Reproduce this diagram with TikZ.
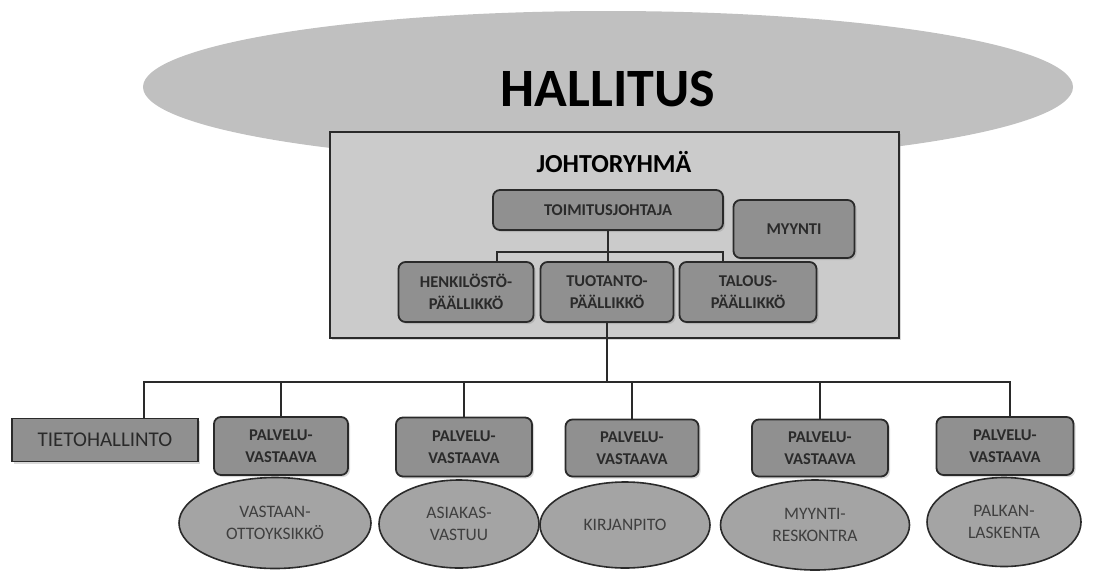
\documentclass[tikz,border=0pt]{standalone}
\usepackage{fontspec}
\setmainfont{Carlito}
\usepackage{tikz}
\usetikzlibrary{positioning,calc,shapes.geometric,shadows}
\definecolor{boardgray}{HTML}{C0C0C0}
\definecolor{groupgray}{HTML}{CBCBCB}
\definecolor{boxgray}{HTML}{909090}
\definecolor{unitgray}{HTML}{A4A4A4}
\definecolor{edge}{HTML}{2A2A2A}

\begin{document}
\begin{tikzpicture}[x=1pt, y=-1pt, semithick]
\tikzstyle{role}=[draw=edge, fill=boxgray, line width=1.8pt, rounded corners=7pt, align=center, inner sep=0pt, font=\bfseries\fontsize{16.5}{22}\selectfont, text=edge, drop shadow={shadow xshift=2pt, shadow yshift=-2pt, opacity=0.3}]
\tikzstyle{unit}=[ellipse, draw=edge, fill=unitgray, line width=1.6pt, align=center, inner sep=0pt, font=\fontsize{17.5}{22}\selectfont, text=edge!90]
\tikzstyle{link}=[draw=edge, line width=1.5pt]
\useasboundingbox (0,0) rectangle (1094,570);

\node[ellipse, fill=boardgray, minimum width=930pt, minimum height=152pt, inner sep=0pt] (hallitus) at (608,87) {};
\node[font=\bfseries\fontsize{54}{56}\selectfont] (hallitustext) at (608,89) {HALLITUS};

\node[draw=edge, fill=groupgray, line width=2.2pt, minimum width=569pt, minimum height=206pt, inner sep=0pt, drop shadow={shadow xshift=2pt, shadow yshift=-2pt, opacity=0.3}] (johto) at (614.5,235) {};
\node[font=\bfseries\fontsize{26}{28}\selectfont] (johtotitle) at (614,162) {JOHTORYHMÄ};

\node[role, minimum width=230pt, minimum height=40pt] (toim) at (608,210) {TOIMITUSJOHTAJA};
\node[role, minimum width=121pt, minimum height=58pt] (myynti) at (794,229) {MYYNTI};
\node[role, minimum width=135pt, minimum height=60pt] (henk) at (466,292) {HENKILÖSTÖ-\\PÄÄLLIKKÖ};
\node[role, minimum width=133pt, minimum height=60pt] (tuot) at (607,292) {TUOTANTO-\\PÄÄLLIKKÖ};
\node[role, minimum width=137pt, minimum height=60pt] (talous) at (748,292) {TALOUS-\\PÄÄLLIKKÖ};

\node[role, rounded corners=0pt, minimum width=186pt, minimum height=43pt, font=\fontsize{21}{22}\selectfont] (tieto) at (105,440) {TIETOHALLINTO};
\node[role, minimum width=134pt, minimum height=58pt] (palv1) at (281,446) {PALVELU-\\VASTAAVA};
\node[role, minimum width=136pt, minimum height=59pt] (palv2) at (464,447) {PALVELU-\\VASTAAVA};
\node[role, minimum width=133pt, minimum height=57pt] (palv3) at (632,448) {PALVELU-\\VASTAAVA};
\node[role, minimum width=136pt, minimum height=57pt] (palv4) at (820,448) {PALVELU-\\VASTAAVA};
\node[role, minimum width=137pt, minimum height=58pt] (palv5) at (1005,446) {PALVELU-\\VASTAAVA};

\node[unit, minimum width=192pt, minimum height=91pt] (vast) at (275,523) {VASTAAN-\\OTTOYKSIKKÖ};
\node[unit, minimum width=160pt, minimum height=88pt] (asiak) at (459,524) {ASIAKAS-\\VASTUU};
\node[unit, minimum width=170pt, minimum height=86pt] (kirja) at (625,525) {KIRJANPITO};
\node[unit, minimum width=189pt, minimum height=90pt] (resk) at (815,525) {MYYNTI-\\RESKONTRA};
\node[unit, minimum width=154pt, minimum height=89pt] (palkka) at (1004,522) {PALKAN-\\LASKENTA};

\coordinate (hl) at (497,252);
\coordinate (hr) at (723,252);
\coordinate (bl) at (144,382);
\coordinate (br) at (1010,382);

\draw[link] (toim.south) -- (toim.south |- tuot.north);
\draw[link] (hl |- henk.north) -- (hl) -- (hr) -- (hr |- talous.north);
\draw[link] (tuot.south) -- (tuot.south |- bl);
\draw[link] (bl |- tieto.north) -- (bl) -- (br) -- (br |- palv5.north);
\draw[link] (palv1.north) -- (palv1.north |- bl);
\draw[link] (palv2.north) -- (palv2.north |- bl);
\draw[link] (palv3.north) -- (palv3.north |- bl);
\draw[link] (palv4.north) -- (palv4.north |- bl);
\end{tikzpicture}
\end{document}
